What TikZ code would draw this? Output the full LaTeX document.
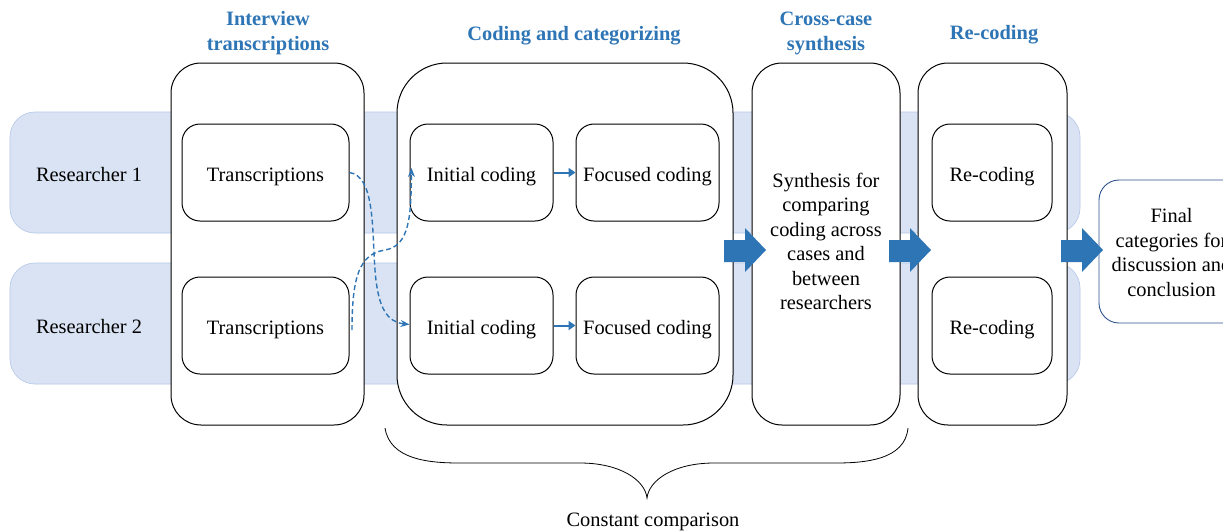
\documentclass[tikz,border=0pt]{standalone}
\usepackage{fontspec}
\setmainfont{Liberation Serif}
\usetikzlibrary{arrows.meta}
\definecolor{lanefill}{HTML}{DAE3F3}
\definecolor{laneline}{HTML}{B4C7E7}
\definecolor{accent}{HTML}{2E75B6}
\definecolor{finalline}{HTML}{2F528F}
\tikzset{
  lane/.style={fill=lanefill,draw=laneline,line width=0.6pt,rounded corners=25pt},
  column/.style={draw=black,fill=white,line width=1pt},
  stepbox/.style={draw=black,fill=white,line width=1pt,rounded corners=18pt,
    minimum width=167pt,minimum height=97pt,inner sep=0pt},
  header/.style={text=accent,font=\bfseries\fontsize{20.4}{25.5}\selectfont,align=center,anchor=base,inner sep=0pt},
  body/.style={font=\fontsize{20.4}{24.5}\selectfont,align=center,anchor=base,inner sep=0pt},
  fatarrow/.style={fill=accent,draw=none},
  thinarrow/.style={accent,line width=2pt,-{Triangle[length=7pt,width=9pt]}},
  dasharrow/.style={accent,line width=1.4pt,dash pattern=on 5pt off 3pt,-{Stealth[length=9pt,width=7pt]}}
}
\begin{document}
\begin{tikzpicture}[x=1pt,y=-1pt]
\clip (0,0) rectangle (1223,531);
\fill[white] (0,0) rectangle (1223,531);

% researcher lanes
\draw[lane] (10,112) rectangle (1080,233);
\draw[lane] (10,263) rectangle (1080,384);
\node[body] (r1) at (89,181) {Researcher 1};
\node[body] (r2) at (89,333.5) {Researcher 2};

% phase columns
\draw[column,rounded corners=30pt] (171,63) rectangle (364,425);
\draw[column,rounded corners=50pt] (397,63) rectangle (733,425);
\draw[column,rounded corners=30pt] (752,63) rectangle (900,425);
\draw[column,rounded corners=30pt] (918,63) rectangle (1067,425);

% phase headers (multi-line nodes sit on the baseline of their last line)
\node[header] (h1) at (268,50.5) {Interview\\transcriptions};
\node[header] (h2) at (574,40) {Coding and categorizing};
\node[header] (h3) at (826,50.5) {Cross-case\\synthesis};
\node[header] (h4) at (994,39.5) {Re-coding};

% step boxes
\node[stepbox] (t1) at (265.5,172.5) {};
\node[stepbox] (t2) at (265.5,325.5) {};
\node[stepbox,minimum width=143pt] (i1) at (481.5,172.5) {};
\node[stepbox,minimum width=143pt] (i2) at (481.5,325.5) {};
\node[stepbox,minimum width=143pt] (f1) at (647.5,172.5) {};
\node[stepbox,minimum width=143pt] (f2) at (647.5,325.5) {};
\node[stepbox,minimum width=120pt] (c1) at (992,172.5) {};
\node[stepbox,minimum width=120pt] (c2) at (992,325.5) {};
\foreach \b/\txt in {t1/Transcriptions,t2/Transcriptions,i1/Initial coding,i2/Initial coding,
    f1/Focused coding,f2/Focused coding,c1/Re-coding,c2/Re-coding}{
  \node[body] (\b-label) at ([yshift=-9pt]\b.center) {\txt};
}
\node[body] (syn) at (826,309.5) {Synthesis for\\comparing\\coding across\\cases and\\between\\researchers};

% final outcome, running past the right edge
\node[draw=finalline,line width=0.9pt,fill=white,rounded corners=20pt,
  minimum width=145pt,minimum height=143pt,inner sep=0pt] (fin) at (1171.5,251.5) {};
\node[body] (fin-label) at (1171.5,296) {Final\\categories for\\discussion and\\conclusion};

% coding arrows
\draw[thinarrow] (i1.east) -- (f1.west);
\draw[thinarrow] (i2.east) -- (f2.west);

% cross-over between researchers
\coordinate (s2) at (352,330);
\draw[dasharrow] (t1.east) .. controls (375,176) and (372,230) .. (375,270)
  .. controls (378,310) and (388,322) .. ([yshift=1pt]i2.west);
\draw[dasharrow] (s2) .. controls (352,275) and (360,254) .. (385,250)
  .. controls (410,246) and (411,215) .. (411.5,168);

% fat transition arrows
\foreach \ax in {724,889,1061}{
  \fill[fatarrow] (\ax,240) -- (\ax+21,240) -- (\ax+21,228) -- (\ax+42,250)
    -- (\ax+21,272) -- (\ax+21,262) -- (\ax,262) -- cycle;
}

% brace
\draw[line width=0.8pt] (385,428) .. controls (390,460) and (430,463) .. (460,463)
  -- (580,463) .. controls (620,463) and (645,480) .. (647,498)
  .. controls (649,480) and (674,463) .. (714,463)
  -- (835,463) .. controls (865,463) and (905,460) .. (908,428);
\node[body] (cc) at (653,526.5) {Constant comparison};
\end{tikzpicture}
\end{document}
